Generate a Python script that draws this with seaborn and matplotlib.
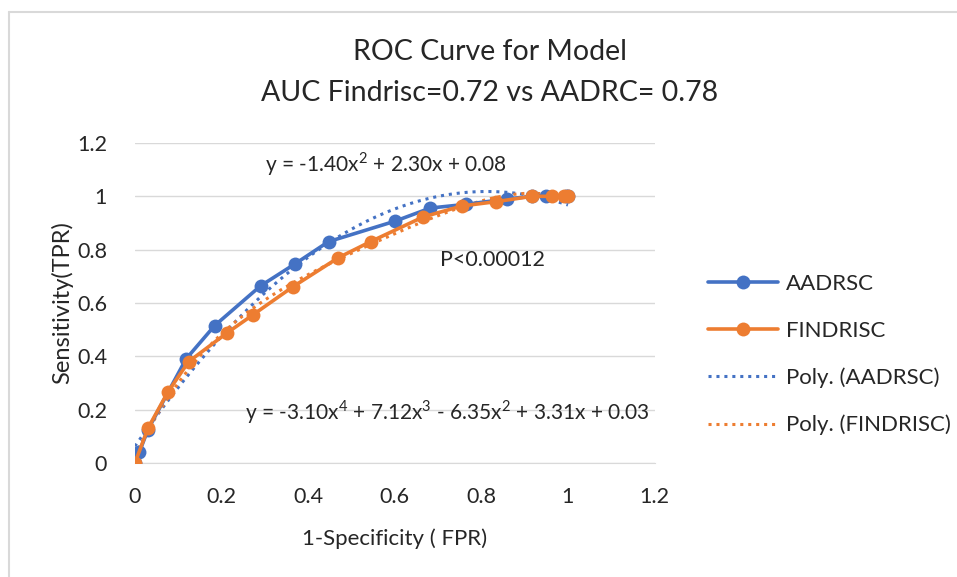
import pandas as pd
import seaborn as sns
import matplotlib.pyplot as plt
from matplotlib.lines import Line2D

# ROC points
aadrsc_fpr = [0.0, 0.01, 0.03, 0.118, 0.184, 0.29, 0.369, 0.447, 0.601, 0.682, 0.765, 0.86, 0.917, 0.95, 0.995, 1.0]
aadrsc_tpr = [0.0, 0.04, 0.125, 0.39, 0.515, 0.664, 0.746, 0.83, 0.907, 0.956, 0.97, 0.99, 1.0, 1.0, 1.0, 1.0]

findrisc_fpr = [0.0, 0.03, 0.076, 0.124, 0.212, 0.272, 0.364, 0.47, 0.544, 0.666, 0.756, 0.834, 0.917, 0.963, 0.99, 1.0]
findrisc_tpr = [0.0, 0.13, 0.266, 0.38, 0.487, 0.555, 0.66, 0.77, 0.83, 0.923, 0.964, 0.98, 1.0, 1.0, 1.0, 1.0]

series_names = ["AADRSC", "FINDRISC"]
trend_orders = [2, 4]
trend_texts = ["y = -1.40x$^2$ + 2.30x + 0.08",
               "y = -3.10x$^4$ + 7.12x$^3$ - 6.35x$^2$ + 3.31x + 0.03"]
ticks = [0, 0.2, 0.4, 0.6, 0.8, 1, 1.2]
tick_labels = ["0", "0.2", "0.4", "0.6", "0.8", "1", "1.2"]

BLUE = "#4472C4"
ORANGE = "#ED7D31"

sns.set_style("white")
plt.rcParams["font.family"] = ["Lato", "DejaVu Sans"]
plt.rcParams["mathtext.fontset"] = "custom"
plt.rcParams["mathtext.rm"] = "Lato"

df = pd.concat([
    pd.DataFrame({"fpr": aadrsc_fpr, "tpr": aadrsc_tpr, "model": "AADRSC"}),
    pd.DataFrame({"fpr": findrisc_fpr, "tpr": findrisc_tpr, "model": "FINDRISC"}),
])

fig = plt.figure(figsize=(9.57, 5.77), dpi=100)
ax = fig.add_axes([0.141, 0.1976, 0.543, 0.5546])

# polynomial trendlines (dotted)
for name, order, col in zip(series_names, trend_orders, [BLUE, ORANGE]):
    sub = df[df["model"] == name]
    sns.regplot(data=sub, x="fpr", y="tpr", order=order, ci=None, scatter=False,
                ax=ax, line_kws={"color": col, "ls": (0, (1, 1.6)), "lw": 2.2, "zorder": 2})

sns.lineplot(data=df, x="fpr", y="tpr", hue="model", palette=[BLUE, ORANGE],
             marker="o", markersize=10, markeredgewidth=0, linewidth=2.6,
             sort=False, legend=False, ax=ax, zorder=3)

ax.set_xlim(0, 1.2)
ax.set_ylim(0, 1.2)
ax.set_xticks(ticks)
ax.set_xticklabels(tick_labels)
ax.set_yticks(ticks)
ax.set_yticklabels(tick_labels)
ax.tick_params(labelsize=15.5, length=0)
ax.tick_params(axis="x", pad=17)
ax.tick_params(axis="y", pad=20)
ax.grid(axis="y", color="#d9d9d9", lw=1)
ax.set_axisbelow(True)
for s in ["top", "right", "left"]:
    ax.spines[s].set_visible(False)
ax.spines["bottom"].set_color("#d9d9d9")
ax.set_xlabel("1-Specificity ( FPR)", fontsize=16, labelpad=16)
ax.set_ylabel("Sensitivity(TPR)", fontsize=17, labelpad=3)

fig.text(0.512, 0.91, "ROC Curve for Model", ha="center", va="center", fontsize=20.5)
fig.text(0.512, 0.838, "AUC Findrisc=0.72 vs AADRC= 0.78", ha="center", va="center", fontsize=20.5)

ax.text(0.3, 1.12, trend_texts[0], fontsize=15, va="center")
ax.text(0.705, 0.76, "P<0.00012", fontsize=15.5, va="center")
ax.text(0.255, 0.19, trend_texts[1], fontsize=15, va="center")

handles = [
    Line2D([], [], color=BLUE, lw=2.6, marker="o", markersize=10, markeredgewidth=0),
    Line2D([], [], color=ORANGE, lw=2.6, marker="o", markersize=10, markeredgewidth=0),
    Line2D([], [], color=BLUE, lw=2.2, ls=(0, (1, 1.6))),
    Line2D([], [], color=ORANGE, lw=2.2, ls=(0, (1, 1.6))),
]
labels = ["AADRSC", "FINDRISC", "Poly. (AADRSC)", "Poly. (FINDRISC)"]
fig.legend(handles, labels, loc="center left", bbox_to_anchor=(0.74, 0.385),
           frameon=False, fontsize=16, labelspacing=1.2, handlelength=3.15,
           handletextpad=0.35, borderaxespad=0, borderpad=0)

# chart border
fig.add_artist(Line2D([0.009, 1.0], [0.979, 0.979], color="#d9d9d9", lw=1.5))
fig.add_artist(Line2D([0.009, 0.009], [0.0, 0.979], color="#d9d9d9", lw=1.5))

plt.savefig("out.png", dpi=100)
